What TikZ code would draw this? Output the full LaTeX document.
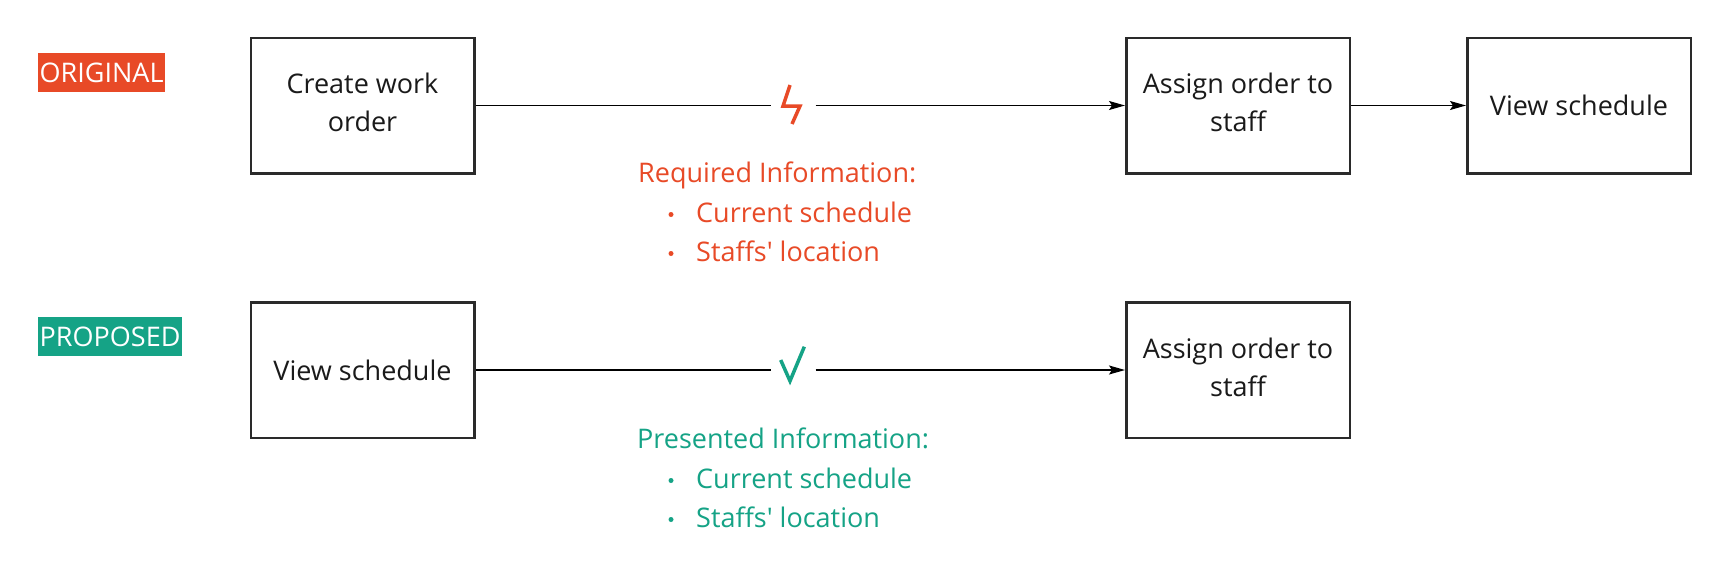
\documentclass[tikz,border=0pt]{standalone}
\usepackage{fontspec}
\setmainfont{Open Sans}
\usetikzlibrary{arrows.meta}
\definecolor{origred}{HTML}{E84A27}
\definecolor{propgreen}{HTML}{15A386}
\definecolor{boxline}{HTML}{2A2A2A}
\definecolor{txt}{HTML}{1A1A1A}
\begin{document}
\begin{tikzpicture}[x=1pt,y=-1pt,
  every node/.style={font=\fontsize{27}{38}\selectfont},
  stepbox/.style={draw=boxline, line width=2.5pt, minimum width=223.5pt, minimum height=135.5pt, inner sep=0pt, align=center, text=txt},
  twoline/.style={text depth=6.5pt},
  tag/.style={inner xsep=1.5pt, inner ysep=0pt, text height=29pt, text depth=10pt, text=white, anchor=base west},
  gapnode/.style={minimum width=44pt, minimum height=40pt, inner sep=0pt},
  flow/.style={draw=black, line width=1.5pt},
  arr/.style={flow, -{Stealth[length=16pt,width=9pt,inset=3pt]}},
  info/.style={anchor=base west, inner sep=0pt},
]
\path[use as bounding box, fill=white] (0,0) rectangle (1726,579);

% ---- ORIGINAL row ----
\node[tag, fill=origred] (orig) at (38,82) {ORIGINAL};
\node[stepbox, twoline] (b1) at (362.5,105.5) {Create work\\order};
\node[stepbox, twoline] (b2) at (1238,105.5) {Assign order to\\staff};
\node[stepbox] (b3) at (1579,105.5) {View schedule};
\node[gapnode] (bolt) at (793.5,105.5) {};
\draw[origred, line width=3.5pt, line join=miter, line cap=butt, shift={(bolt.center)}]
  (-3.5,-20.5) -- (-10.5,0.5) -- (6.5,0.5) -- (-1.5,18.5);
\draw[flow] (b1.east) -- (bolt.west);
\draw[arr] (bolt.east) -- (b2.west);
\draw[arr] (b2.east) -- (b3.west);

\node[info, text=origred] (reqh) at (638,182) {Required Information:};
\node[info, text=origred] (req1) at (696,222) {Current schedule};
\node[info, text=origred] (req2) at (696,261) {Staffs\textquotesingle\ location};
\fill[origred] (671,214.5) circle (2.5pt);
\fill[origred] (671,253.5) circle (2.5pt);

% ---- PROPOSED row ----
\node[tag, fill=propgreen] (prop) at (38,346) {PROPOSED};
\node[stepbox] (b4) at (362.5,370) {View schedule};
\node[stepbox, twoline] (b5) at (1238,370) {Assign order to\\staff};
\node[gapnode] (chk) at (793.5,370) {};
\draw[propgreen, line width=3.5pt, line join=miter, shift={(chk.center)}]
  (-12.8,-10) -- (-3.5,11) -- (10.8,-23.3);
\draw[flow] (b4.east) -- (chk.west);
\draw[arr] (chk.east) -- (b5.west);

\node[info, text=propgreen] (preh) at (637,448) {Presented Information:};
\node[info, text=propgreen] (pre1) at (696,488) {Current schedule};
\node[info, text=propgreen] (pre2) at (696,527) {Staffs\textquotesingle\ location};
\fill[propgreen] (671,480.5) circle (2.5pt);
\fill[propgreen] (671,519.5) circle (2.5pt);
\end{tikzpicture}
\end{document}
